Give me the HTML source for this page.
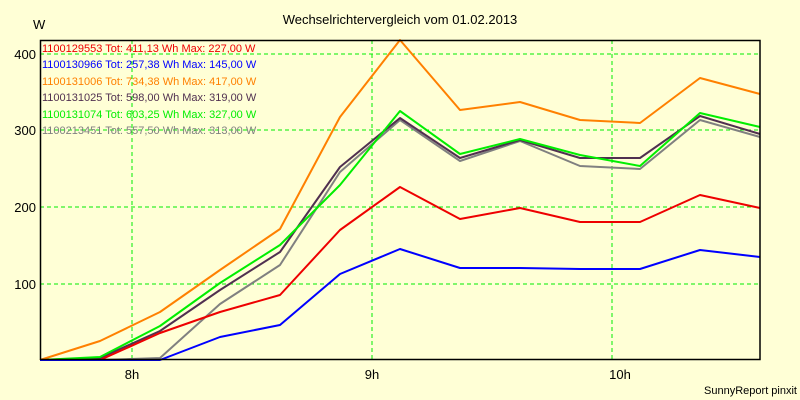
<!DOCTYPE html>
<html><head><style>
body{margin:0;background:#ffffd6;}
svg{display:block;font-family:"Liberation Sans",sans-serif;}
</style></head><body>
<svg width="800" height="400" viewBox="0 0 800 400">
<rect width="800" height="400" fill="#ffffd6"/>
<text x="400" y="24" font-size="13" text-anchor="middle">Wechselrichtervergleich vom 01.02.2013</text>
<text x="33" y="29" font-size="13">W</text>
<g stroke="#00ee00" stroke-dasharray="4,3" stroke-width="1">
<line x1="40" y1="54" x2="760" y2="54"/><line x1="40" y1="130" x2="760" y2="130"/>
<line x1="40" y1="207" x2="760" y2="207"/><line x1="40" y1="284" x2="760" y2="284"/>
<line x1="132" y1="40" x2="132" y2="360"/><line x1="372" y1="40" x2="372" y2="360"/><line x1="612" y1="40" x2="612" y2="360"/>
</g>
<g font-size="13" text-anchor="end">
<text x="36" y="59">400</text><text x="36" y="135">300</text><text x="36" y="212">200</text><text x="36" y="289">100</text>
</g>
<g font-size="13" text-anchor="middle">
<text x="132" y="379">8h</text><text x="372" y="379">9h</text><text x="620" y="379">10h</text>
</g>
<text x="797" y="394" font-size="11" text-anchor="end">SunnyReport pinxit</text>
<g fill="none" stroke-width="2" stroke-linejoin="round">
<polyline stroke="#808080" points="40,360 100,360 160,358 220,304 280,265 340,172 400,120 460,161 520,141 580,166 640,169 700,120 760,137"/>
<polyline stroke="#503050" points="40,360 100,358 160,331 220,290 280,252 340,167 400,118 460,158 520,140 580,158 640,158 700,116 760,134"/>
<polyline stroke="#00ee00" points="40,360 100,357 160,326 220,283 280,245 340,185 400,111 460,154 520,139 580,155 640,166 700,113 760,127"/>
<polyline stroke="#ff8000" points="40,360 100,341 160,312 220,270 280,229 340,117 400,40 460,110 520,102 580,120 640,123 700,78 760,94"/>
<polyline stroke="#ee0000" points="100,360 160,333 220,312 280,295 340,230 400,187 460,219 520,208 580,222 640,222 700,195 760,208"/>
<polyline stroke="#0000ff" points="40,360 160,360 220,337 280,325 340,274 400,249 460,268 520,268 580,269 640,269 700,250 760,257"/>
</g>
<polyline fill="none" stroke="#000" stroke-width="1.5" points="40.5,360 40.5,40.5 760,40.5 760,359.5 40,359.5"/>
<g font-size="11">
<text x="42" y="52" fill="#ee0000">1100129553 Tot: 411,13 Wh Max: 227,00 W</text>
<text x="42" y="68" fill="#0000ff">1100130966 Tot: 257,38 Wh Max: 145,00 W</text>
<text x="42" y="85" fill="#ff8000">1100131006 Tot: 734,38 Wh Max: 417,00 W</text>
<text x="42" y="101" fill="#503050">1100131025 Tot: 598,00 Wh Max: 319,00 W</text>
<text x="42" y="118" fill="#00ee00">1100131074 Tot: 603,25 Wh Max: 327,00 W</text>
<text x="42" y="134" fill="#808080">1100213451 Tot: 557,50 Wh Max: 313,00 W</text>
</g>
</svg>
</body></html>
